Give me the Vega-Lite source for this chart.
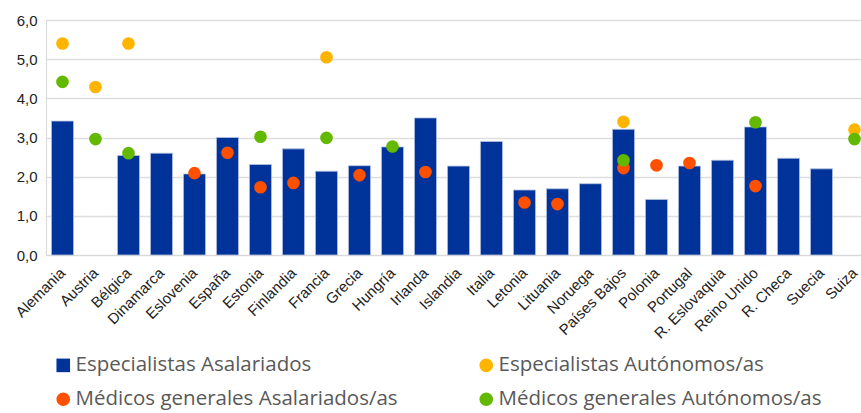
{
  "$schema": "https://vega.github.io/schema/vega-lite/v6.json",
  "autosize": {"type": "none"},
  "width": 825,
  "height": 235,
  "padding": {"left": 46, "top": 20, "right": -10, "bottom": 158},
  "background": "white",
  "config": {"view": {"stroke": null}},
  "data": {"values": [
    {"pais": "Alemania", "serie": "Especialistas Asalariados", "valor": 3.42},
    {"pais": "Alemania", "serie": "Especialistas Autónomos/as", "valor": 5.40},
    {"pais": "Alemania", "serie": "Médicos generales Autónomos/as", "valor": 4.42},
    {"pais": "Austria", "serie": "Especialistas Autónomos/as", "valor": 4.29},
    {"pais": "Austria", "serie": "Médicos generales Autónomos/as", "valor": 2.96},
    {"pais": "Bélgica", "serie": "Especialistas Asalariados", "valor": 2.54},
    {"pais": "Bélgica", "serie": "Especialistas Autónomos/as", "valor": 5.40},
    {"pais": "Bélgica", "serie": "Médicos generales Autónomos/as", "valor": 2.60},
    {"pais": "Dinamarca", "serie": "Especialistas Asalariados", "valor": 2.60},
    {"pais": "Eslovenia", "serie": "Especialistas Asalariados", "valor": 2.07},
    {"pais": "Eslovenia", "serie": "Médicos generales Asalariados/as", "valor": 2.09},
    {"pais": "España", "serie": "Especialistas Asalariados", "valor": 3.00},
    {"pais": "España", "serie": "Médicos generales Asalariados/as", "valor": 2.61},
    {"pais": "Estonia", "serie": "Especialistas Asalariados", "valor": 2.31},
    {"pais": "Estonia", "serie": "Médicos generales Asalariados/as", "valor": 1.73},
    {"pais": "Estonia", "serie": "Médicos generales Autónomos/as", "valor": 3.02},
    {"pais": "Finlandia", "serie": "Especialistas Asalariados", "valor": 2.71},
    {"pais": "Finlandia", "serie": "Médicos generales Asalariados/as", "valor": 1.84},
    {"pais": "Francia", "serie": "Especialistas Asalariados", "valor": 2.14},
    {"pais": "Francia", "serie": "Especialistas Autónomos/as", "valor": 5.05},
    {"pais": "Francia", "serie": "Médicos generales Autónomos/as", "valor": 2.99},
    {"pais": "Grecia", "serie": "Especialistas Asalariados", "valor": 2.28},
    {"pais": "Grecia", "serie": "Médicos generales Asalariados/as", "valor": 2.04},
    {"pais": "Hungría", "serie": "Especialistas Asalariados", "valor": 2.76},
    {"pais": "Hungría", "serie": "Médicos generales Autónomos/as", "valor": 2.77},
    {"pais": "Irlanda", "serie": "Especialistas Asalariados", "valor": 3.50},
    {"pais": "Irlanda", "serie": "Médicos generales Asalariados/as", "valor": 2.12},
    {"pais": "Islandia", "serie": "Especialistas Asalariados", "valor": 2.27},
    {"pais": "Italia", "serie": "Especialistas Asalariados", "valor": 2.90},
    {"pais": "Letonia", "serie": "Especialistas Asalariados", "valor": 1.66},
    {"pais": "Letonia", "serie": "Médicos generales Asalariados/as", "valor": 1.34},
    {"pais": "Lituania", "serie": "Especialistas Asalariados", "valor": 1.69},
    {"pais": "Lituania", "serie": "Médicos generales Asalariados/as", "valor": 1.30},
    {"pais": "Noruega", "serie": "Especialistas Asalariados", "valor": 1.82},
    {"pais": "Países Bajos", "serie": "Especialistas Asalariados", "valor": 3.21},
    {"pais": "Países Bajos", "serie": "Especialistas Autónomos/as", "valor": 3.40},
    {"pais": "Países Bajos", "serie": "Médicos generales Asalariados/as", "valor": 2.22},
    {"pais": "Países Bajos", "serie": "Médicos generales Autónomos/as", "valor": 2.42},
    {"pais": "Polonia", "serie": "Especialistas Asalariados", "valor": 1.42},
    {"pais": "Polonia", "serie": "Médicos generales Asalariados/as", "valor": 2.29},
    {"pais": "Portugal", "serie": "Especialistas Asalariados", "valor": 2.27},
    {"pais": "Portugal", "serie": "Médicos generales Asalariados/as", "valor": 2.35},
    {"pais": "R. Eslovaquia", "serie": "Especialistas Asalariados", "valor": 2.42},
    {"pais": "Reino Unido", "serie": "Especialistas Asalariados", "valor": 3.27},
    {"pais": "Reino Unido", "serie": "Médicos generales Asalariados/as", "valor": 1.76},
    {"pais": "Reino Unido", "serie": "Médicos generales Autónomos/as", "valor": 3.39},
    {"pais": "R. Checa", "serie": "Especialistas Asalariados", "valor": 2.47},
    {"pais": "Suecia", "serie": "Especialistas Asalariados", "valor": 2.20},
    {"pais": "Suiza", "serie": "Especialistas Autónomos/as", "valor": 3.20},
    {"pais": "Suiza", "serie": "Médicos generales Autónomos/as", "valor": 2.96}
  ]},
  "encoding": {
    "x": {
      "field": "pais", "type": "nominal",
      "sort": ["Alemania", "Austria", "Bélgica", "Dinamarca", "Eslovenia", "España", "Estonia", "Finlandia", "Francia", "Grecia", "Hungría", "Irlanda", "Islandia", "Italia", "Letonia", "Lituania", "Noruega", "Países Bajos", "Polonia", "Portugal", "R. Eslovaquia", "Reino Unido", "R. Checa", "Suecia", "Suiza"],
      "scale": {"paddingInner": 0.33, "paddingOuter": 0.165},
      "axis": {
        "title": null, "labelAngle": -45, "labelFont": "Liberation Sans", "labelFontSize": 15,
        "labelColor": "#222222", "ticks": false, "domain": true, "domainColor": "#d9d9d9",
        "labelPadding": 15, "labelBaseline": "middle", "labelAlign": "right",
        "labelOverlap": false, "labelBound": false
      }
    },
    "y": {
      "field": "valor", "type": "quantitative",
      "scale": {"domain": [0, 6], "nice": false},
      "axis": {
        "title": null, "values": [0, 1, 2, 3, 4, 5, 6],
        "labelExpr": "replace(format(datum.value, '.1f'), '.', ',')",
        "labelFont": "Liberation Sans", "labelFontSize": 15, "labelColor": "#222222",
        "ticks": false, "domain": true, "domainColor": "#d9d9d9", "labelPadding": 9,
        "grid": true, "gridColor": "#dedede", "gridWidth": 1.5
      }
    },
    "color": {
      "field": "serie", "type": "nominal",
      "scale": {
        "domain": ["Especialistas Asalariados", "Especialistas Autónomos/as", "Médicos generales Asalariados/as", "Médicos generales Autónomos/as"],
        "range": ["#003399", "#ffb400", "#ff5000", "#63b800"]
      },
      "legend": {
        "title": null, "orient": "none", "legendX": 7, "legendY": 335, "direction": "horizontal", "columns": 2,
        "labelFont": "Open Sans", "labelFontSize": 20.5, "labelColor": "#595959",
        "symbolSize": 185, "columnPadding": 78, "rowPadding": 13, "labelLimit": 400,
        "symbolStrokeWidth": 0, "labelOffset": 2
      }
    },
    "shape": {
      "field": "serie", "type": "nominal",
      "scale": {
        "domain": ["Especialistas Asalariados", "Especialistas Autónomos/as", "Médicos generales Asalariados/as", "Médicos generales Autónomos/as"],
        "range": ["square", "circle", "circle", "circle"]
      },
      "legend": null
    }
  },
  "layer": [
    {
      "transform": [{"filter": "datum.serie == 'Especialistas Asalariados'"}],
      "mark": {"type": "bar", "stroke": "#b8c4e0", "strokeWidth": 0.8}
    },
    {
      "transform": [{"filter": "datum.serie != 'Especialistas Asalariados'"}],
      "mark": {"type": "point", "filled": true, "size": 160, "opacity": 1}
    }
  ]
}
